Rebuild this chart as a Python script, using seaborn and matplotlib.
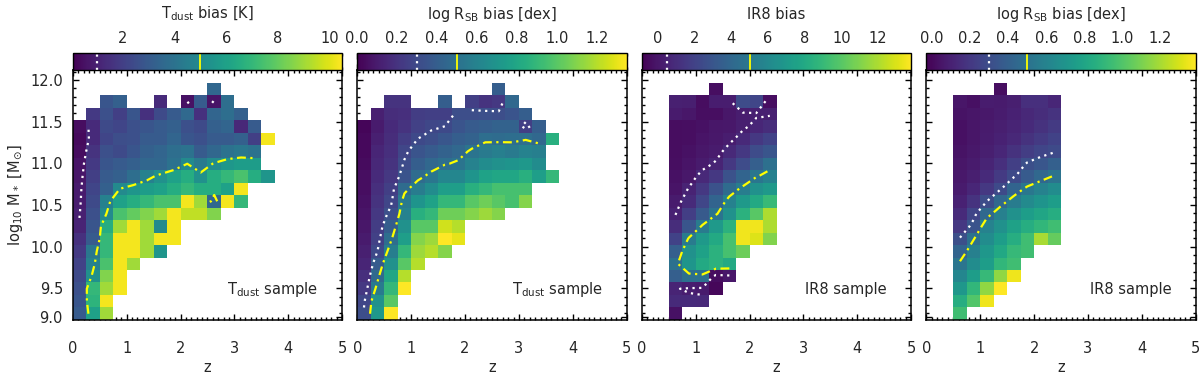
import numpy as np
import matplotlib
matplotlib.use("Agg")
import matplotlib.pyplot as plt
import seaborn as sns
from matplotlib.ticker import FixedLocator, AutoMinorLocator, MultipleLocator

N = None

# binning of the maps: 20 redshift bins of 0.25, 20 mass bins of 0.15 dex
Z_STEP, M_STEP = 0.25, 0.15
M_TOP = 12.12
N_Z, N_M = 20, 20

# T_dust sample: rows from logM bin 11.82-11.97 (top) down to 9.12-9.27, cols z = 0 ... 3.75
TDUST_BIAS = [
    [N, N, N, N, N, N, N, N, N, N, 3.5, N, N, N, N],
    [N, N, 2.8, 3.2, N, N, 1.3, N, 0.5, 3.0, 0.6, 3.8, N, N, N],
    [N, 1.8, 2.6, 2.0, 2.8, 1.5, 2.4, 3.0, 3.6, 1.5, 3.4, 3.8, 3.2, N, N],
    [0.4, 1.3, 2.4, 2.2, 2.6, 2.8, 3.0, 3.2, 2.6, 2.4, 3.2, 3.4, 1.2, 3.0, N],
    [0.3, 1.3, 2.2, 2.5, 2.6, 3.0, 3.0, 3.4, 2.8, 2.6, 3.0, 3.0, 3.2, 2.0, 10.3],
    [0.4, 1.6, 2.6, 2.4, 2.8, 3.2, 3.4, 3.8, 4.0, 3.0, 3.5, 4.0, 4.2, 4.0, N],
    [0.6, 1.8, 2.8, 3.0, 3.2, 3.5, 3.5, 4.0, 5.0, 4.3, 5.1, 5.6, 5.8, 5.8, N],
    [0.7, 2.0, 3.0, 3.2, 3.8, 4.6, 5.3, 6.0, 6.5, 5.3, 6.5, 7.0, 7.5, 6.5, 5.5],
    [0.8, 2.2, 3.2, 5.0, 5.5, 5.8, 6.0, 6.5, 7.0, 6.5, 6.5, 6.0, 10.3, N, N],
    [0.85, 2.4, 4.6, 6.0, 6.5, 7.0, 7.5, 7.5, 10.3, 9.0, 3.5, 10.3, 7.0, N, N],
    [0.95, 2.6, 5.0, 7.5, 8.0, 8.5, 9.0, 10.3, 9.5, 9.5, 8.5, N, N, N, N],
    [1.1, 2.8, 6.5, 9.0, 10.3, 9.0, 5.0, 10.3, N, N, N, N, N, N, N],
    [1.5, 3.0, 7.0, 10.3, 10.3, 9.0, 10.3, 10.3, N, N, N, N, N, N, N],
    [1.8, 4.2, 7.0, 10.3, 10.3, 9.0, 5.5, N, N, N, N, N, N, N, N],
    [2.1, 4.6, 7.5, 10.3, 9.0, N, N, N, N, N, N, N, N, N, N],
    [2.4, 5.3, 8.5, 10.3, N, N, N, N, N, N, N, N, N, N, N],
    [2.6, 7.0, 9.0, 10.3, N, N, N, N, N, N, N, N, N, N, N],
    [2.8, 6.8, 10.3, N, N, N, N, N, N, N, N, N, N, N, N],
    [3.0, 6.0, 9.0, N, N, N, N, N, N, N, N, N, N, N, N],
]

RSB_BIAS_TDUST = [
    [N, N, N, N, N, N, N, N, N, N, 0.40, N, N, N, N],
    [N, N, 0.20, 0.20, N, N, 0.40, N, 0.25, 0.20, 0.22, 0.45, N, N, N],
    [N, 0.12, 0.17, 0.18, 0.24, 0.25, 0.25, 0.32, 0.32, 0.33, 0.32, 0.35, 0.40, N, N],
    [0.02, 0.10, 0.16, 0.20, 0.26, 0.29, 0.30, 0.35, 0.38, 0.40, 0.42, 0.42, 0.25, 0.40, N],
    [0.03, 0.12, 0.17, 0.24, 0.30, 0.32, 0.36, 0.40, 0.42, 0.48, 0.47, 0.48, 0.49, 0.45, 0.85],
    [0.03, 0.14, 0.18, 0.28, 0.35, 0.38, 0.42, 0.45, 0.52, 0.55, 0.58, 0.55, 0.60, 0.58, N],
    [0.04, 0.15, 0.20, 0.31, 0.40, 0.45, 0.49, 0.52, 0.60, 0.65, 0.68, 0.70, 0.72, 0.65, N],
    [0.05, 0.16, 0.22, 0.35, 0.47, 0.53, 0.62, 0.62, 0.70, 0.78, 0.80, 0.80, 0.85, 0.75, 0.90],
    [0.05, 0.18, 0.25, 0.47, 0.56, 0.65, 0.75, 0.75, 0.85, 0.90, 0.95, 0.95, 0.95, N, N],
    [0.06, 0.20, 0.28, 0.55, 0.70, 0.78, 0.90, 0.90, 1.00, 1.05, 1.00, 0.95, 1.10, N, N],
    [0.07, 0.22, 0.33, 0.60, 0.85, 0.90, 1.05, 1.05, 1.10, 1.15, 1.10, N, N, N, N],
    [0.08, 0.24, 0.40, 0.68, 1.00, 1.00, 1.25, 1.20, N, N, N, N, N, N, N],
    [0.10, 0.26, 0.48, 0.75, 1.10, 1.15, 1.35, 1.30, N, N, N, N, N, N, N],
    [0.12, 0.30, 0.57, 0.90, 1.15, 1.20, 1.10, N, N, N, N, N, N, N, N],
    [0.14, 0.38, 0.68, 1.00, 1.20, N, N, N, N, N, N, N, N, N, N],
    [0.18, 0.46, 0.80, 1.20, N, N, N, N, N, N, N, N, N, N, N],
    [0.22, 0.55, 0.90, 1.35, N, N, N, N, N, N, N, N, N, N, N],
    [0.28, 0.68, 1.00, N, N, N, N, N, N, N, N, N, N, N, N],
    [0.32, 0.72, 1.35, N, N, N, N, N, N, N, N, N, N, N, N],
]

# IR8 sample: same rows, cols z = 0.5 ... 2.25
IR8_BIAS = [
    [N, N, N, -0.3, N, N, N, N],
    [0.4, 0.35, -0.4, 0.3, 0.3, 2.5, 2.2, -0.3],
    [0.2, 0.0, -0.3, -0.3, 0.0, 0.3, 0.4, 0.4],
    [-0.4, -0.3, -0.2, 0.0, 0.1, 0.35, 0.7, 1.0],
    [-0.4, -0.3, -0.1, 0.1, 0.3, 0.8, 1.5, 2.0],
    [-0.4, -0.2, 0.0, 0.2, 0.8, 1.5, 2.5, 3.0],
    [-0.3, -0.1, 0.2, 0.6, 1.5, 2.5, 3.5, 4.5],
    [-0.2, 0.1, 0.8, 1.5, 2.8, 3.8, 4.9, 5.5],
    [-0.1, 0.55, 1.5, 2.8, 4.2, 5.3, 6.5, 7.0],
    [0.2, 0.9, 2.2, 3.8, 5.5, 7.0, 8.0, 9.0],
    [0.45, 1.8, 3.2, 4.8, 6.5, 8.5, 10.0, 12.0],
    [1.0, 3.0, 5.2, 7.0, 8.5, 13.5, 13.5, 12.0],
    [2.0, 5.2, 7.0, 8.0, 9.5, 13.5, 13.0, 11.0],
    [3.5, 6.5, 7.5, 8.5, 9.5, 10.5, N, N],
    [4.6, 6.8, 8.0, 8.5, 8.0, N, N, N],
    [3.5, 4.5, 4.5, -0.4, 0.0, N, N, N],
    [0.6, 0.3, 0.2, -0.6, N, N, N, N],
    [0.9, 0.9, 0.8, N, N, N, N, N],
    [-0.2, N, N, N, N, N, N, N],
]

RSB_BIAS_IR8 = [
    [N, N, N, 0.02, N, N, N, N],
    [0.05, 0.03, 0.08, 0.07, 0.09, 0.16, 0.16, 0.12],
    [0.04, 0.05, 0.06, 0.08, 0.10, 0.13, 0.15, 0.18],
    [0.03, 0.05, 0.07, 0.09, 0.11, 0.14, 0.17, 0.21],
    [0.03, 0.05, 0.08, 0.10, 0.13, 0.17, 0.21, 0.25],
    [0.04, 0.06, 0.09, 0.12, 0.17, 0.22, 0.26, 0.29],
    [0.05, 0.07, 0.11, 0.16, 0.23, 0.31, 0.35, 0.40],
    [0.06, 0.09, 0.14, 0.21, 0.29, 0.37, 0.44, 0.51],
    [0.07, 0.12, 0.20, 0.29, 0.42, 0.53, 0.60, 0.65],
    [0.10, 0.18, 0.30, 0.44, 0.56, 0.64, 0.70, 0.75],
    [0.14, 0.26, 0.45, 0.58, 0.68, 0.75, 0.80, 0.85],
    [0.20, 0.34, 0.60, 0.68, 0.78, 0.85, 0.90, 0.95],
    [0.31, 0.49, 0.65, 0.75, 0.85, 0.95, 1.20, 1.05],
    [0.42, 0.58, 0.72, 0.82, 0.92, 0.95, N, N],
    [0.52, 0.65, 0.75, 0.90, 0.95, N, N, N],
    [0.62, 0.75, 0.92, 1.15, 1.35, N, N, N],
    [0.72, 0.90, 1.15, 1.38, N, N, N, N],
    [0.85, 1.00, 1.35, N, N, N, N, N],
    [0.95, N, N, N, N, N, N, N],
]

PANEL_TITLES = [r"T$_{\rm dust}$ bias [K]", r"log R$_{\rm SB}$ bias [dex]",
                "IR8 bias", r"log R$_{\rm SB}$ bias [dex]"]
PANEL_DATA = [TDUST_BIAS, RSB_BIAS_TDUST, IR8_BIAS, RSB_BIAS_IR8]
FIRST_COL = [0, 0, 2, 2]
V_RANGE = [(0.05, 10.5), (0.0, 1.35), (-0.87, 13.8), (-0.03, 1.385)]
CB_STEP = [2, 0.2, 2, 0.2]
LEVEL_LOW = [1.0, 0.3, 0.5, 0.3]
LEVEL_HIGH = [5.0, 0.5, 5.0, 0.5]
SAMPLE_LABEL = [r"T$_{\rm dust}$ sample", r"T$_{\rm dust}$ sample", "IR8 sample", "IR8 sample"]

Z_TICKS = [0, 1, 2, 3, 4, 5]
M_TICKS = [9.16, 9.5, 10.0, 10.5, 11.0, 11.5, 12.0]
M_TICKLABELS = ["9.0", "9.5", "10.0", "10.5", "11.0", "11.5", "12.0"]

FS = 10.5
DOTS = (0, (1, 2))
DASHDOT = (0, (4, 2, 1, 2))


def zpos(z):
    return np.asarray(z) / Z_STEP


def mpos(m):
    return (M_TOP - np.asarray(m)) / M_STEP


def full_grid(rows, col0):
    arr = np.array(rows, dtype=float)
    grid = np.full((N_M, N_Z), np.nan)
    grid[1:1 + arr.shape[0], col0:col0 + arr.shape[1]] = arr
    return grid


sns.set_style("ticks", {"xtick.direction": "in", "ytick.direction": "in"})
plt.rcParams["font.family"] = ["DejaVu Sans"]
plt.rcParams["mathtext.fontset"] = "dejavusans"

fig = plt.figure(figsize=(12, 3.77), dpi=100)
left0, step, width = 0.0606, 0.2371, 0.2246
bottom, height, cb_h = 0.1512, 0.6631, 0.0451

for i in range(4):
    ax = fig.add_axes([left0 + i * step, bottom, width, height])
    cax = fig.add_axes([left0 + i * step, bottom + height, width, cb_h])
    grid = full_grid(PANEL_DATA[i], FIRST_COL[i])
    vmin, vmax = V_RANGE[i]

    sns.heatmap(grid, ax=ax, cmap="viridis", vmin=vmin, vmax=vmax, cbar_ax=cax,
                cbar_kws={"orientation": "horizontal"},
                xticklabels=False, yticklabels=False)

    xc = np.arange(N_Z) + 0.5
    yc = np.arange(N_M) + 0.5
    zm = np.ma.masked_invalid(grid)
    ax.contour(xc, yc, zm, levels=[LEVEL_LOW[i]], colors="white",
               linestyles=[DOTS], linewidths=1.6, corner_mask=False)
    ax.contour(xc, yc, zm, levels=[LEVEL_HIGH[i]], colors="yellow",
               linestyles=[DASHDOT], linewidths=1.6, corner_mask=False)

    for sp in ax.spines.values():
        sp.set_visible(True)
        sp.set_linewidth(1.1)
        sp.set_color("black")
    ax.set_xlim(0, N_Z)
    ax.set_ylim(N_M, 0)

    ax.xaxis.set_major_locator(FixedLocator(zpos(Z_TICKS)))
    ax.xaxis.set_minor_locator(FixedLocator(zpos(np.arange(0, 5.01, 0.1))))
    ax.set_xticklabels([str(t) for t in Z_TICKS], fontsize=FS)
    ax.yaxis.set_major_locator(FixedLocator(mpos(M_TICKS)))
    ax.yaxis.set_minor_locator(FixedLocator(mpos(np.arange(9.2, 12.11, 0.1))))
    if i == 0:
        ax.set_yticklabels(M_TICKLABELS, fontsize=FS)
        ax.set_ylabel(r"log$_{10}$ M$_*$ [M$_{\odot}$]", fontsize=FS)
    else:
        ax.set_yticklabels([])
    ax.tick_params(which="both", direction="in", top=True, right=True,
                   bottom=True, left=True, color="black", width=1.0, labelsize=FS)
    ax.tick_params(which="major", length=4.5)
    ax.tick_params(which="minor", length=2.2)
    ax.tick_params(axis="x", pad=15)
    ax.tick_params(axis="y", pad=7, labelrotation=0)
    ax.set_xlabel("z", fontsize=FS, labelpad=3)

    ax.text(0.91, 0.12, SAMPLE_LABEL[i], transform=ax.transAxes,
            ha="right", va="center", fontsize=FS)

    # colorbar on top
    cb = ax.collections[0].colorbar
    cb.outline.set_linewidth(1.0)
    cb.outline.set_edgecolor("black")
    cax.xaxis.set_ticks_position("top")
    cax.xaxis.set_label_position("top")
    cax.xaxis.set_major_locator(MultipleLocator(CB_STEP[i]))
    cax.xaxis.set_minor_locator(AutoMinorLocator(4))
    cax.tick_params(which="both", direction="in", top=True, bottom=True,
                    color="black", width=1.0, labelsize=FS, pad=5)
    cax.tick_params(which="major", length=4)
    cax.tick_params(which="minor", length=2)
    cax.set_xlabel(PANEL_TITLES[i], fontsize=FS, labelpad=9)
    cax.axvline(LEVEL_LOW[i], color="white", linestyle=DOTS, linewidth=1.6)
    cax.axvline(LEVEL_HIGH[i], color="yellow", linewidth=1.3)

fig.savefig("out.png", dpi=100)
